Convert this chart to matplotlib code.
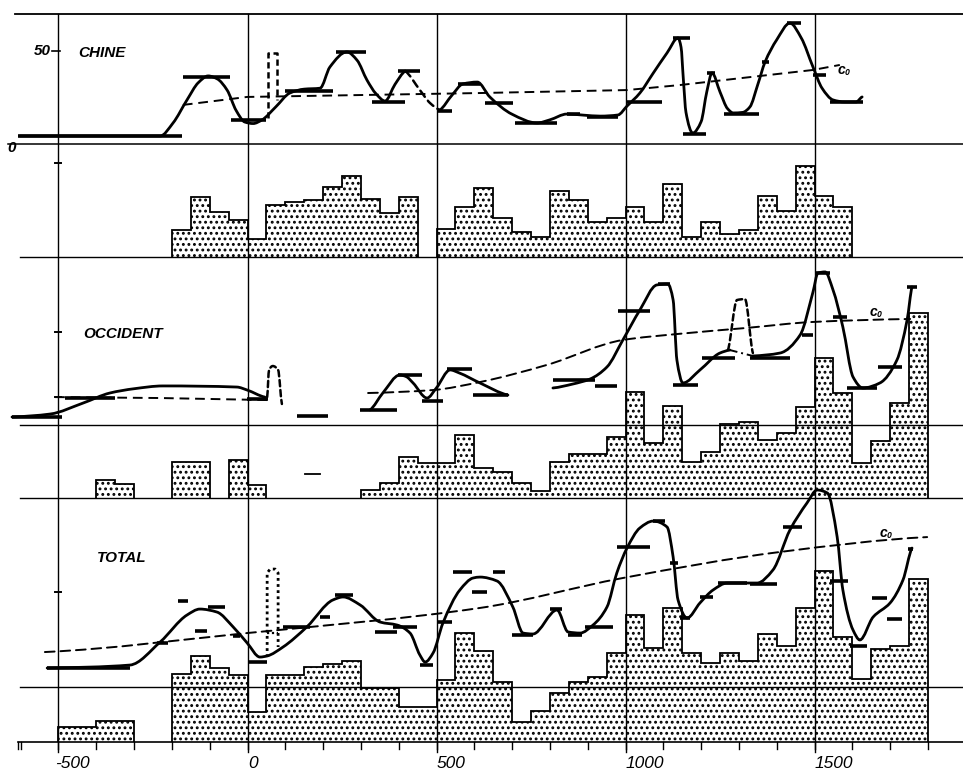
import matplotlib
matplotlib.use('Agg')
import matplotlib.pyplot as plt
from matplotlib.path import Path
from matplotlib.patches import PathPatch
import numpy as np

plt.rcParams['font.family'] = ['Liberation Sans', 'DejaVu Sans']
plt.rcParams['hatch.linewidth'] = 1.3

# ---------------- DATA (years, values in the chart's unit; 50 = "50" mark) ----------------
# CHINE
chine_curve_a = [(-602, 4.3), (-231, 4.3), (-197, 11.3), (-160, 23.7), (-130, 33), (-104, 36.6), (-80, 35),
                 (-54, 29), (-30, 18), (-7, 11.8), (15, 11), (38, 12.9), (75, 20), (112, 27.4), (150, 29.5),
                 (192, 30), (218, 41.4), (263, 49.5), (290, 45), (316, 34.4), (340, 27), (364, 23.1),
                 (390, 32), (417, 39.2)]
chine_curve_b = [(417, 39.2), (456, 29), (483, 22), (509, 18.3)]
chine_curve_c = [(509, 18.3), (540, 26), (570, 32.3), (608, 33.3), (641, 25.3), (700, 16), (766, 11.3),
                 (800, 13), (845, 16.1), (890, 15.5), (933, 15), (980, 15.6), (1004, 20.4), (1038, 27.4),
                 (1073, 38), (1110, 49), (1139, 57), (1147, 52), (1153, 35), (1160, 17), (1178, 5.9),
                 (1200, 12), (1215, 28), (1229, 38.2), (1250, 28), (1270, 19), (1285, 16.7), (1310, 17),
                 (1329, 19.9), (1350, 32), (1369, 44), (1400, 56), (1435, 65), (1465, 57), (1496, 41.4),
                 (1520, 30), (1549, 23.7), (1580, 22.6), (1610, 22.6), (1626, 25.3)]
chine_spike = [(54, 14), (54, 48.9), (78, 48.9), (78, 23.7)]
chine_trend = [(-171, 21), (-1, 25.3), (615, 27.4), (1004, 29), (1144, 31.7), (1496, 39.8), (1567, 42.5)]
chine_levels = [(-607, -173, 4.3), (-171, -46, 36), (-44, 49, 12.9), (99, 226, 28.5), (234, 313, 49.5),
                (329, 417, 22.6), (398, 456, 39.2), (501, 541, 17.7), (557, 615, 32.3), (628, 702, 22),
                (708, 819, 11.3), (845, 880, 16.1), (898, 980, 14.5), (1004, 1097, 22.6), (1126, 1171, 57),
                (1152, 1213, 5.4), (1216, 1237, 38.2), (1261, 1353, 16.1), (1361, 1380, 44),
                (1427, 1464, 65), (1496, 1530, 37), (1541, 1628, 22.6)]
chine_hist_start = -200
chine_hist = [14.5, 32.3, 24.2, 19.9, 9.7, 28, 29.6, 30.6, 37.6, 43.5, 31.2, 23.7, 32.3, np.nan,
              15, 26.9, 37.1, 21, 13.4, 10.8, 35.5, 30.6, 18.8, 21, 26.9, 18.8, 39.2, 10.8,
              18.8, 12.4, 14.5, 32.8, 24.7, 48.9, 32.8, 26.9]

# OCCIDENT
occ_curve_1 = [(-623, 4.3), (-522, 5.9), (-435, 11.8), (-364, 17.2), (-300, 19.5), (-224, 21),
               (-28, 20.4), (-1, 18.8), (46, 15)]
occ_curve_2 = [(324, 8.1), (358, 17.2), (403, 26.9), (420, 26), (438, 22.6), (475, 14.5), (500, 20),
               (536, 29.6), (560, 28), (615, 22.6), (689, 16.1)]
occ_curve_3 = [(808, 19.9), (860, 22), (906, 24.7), (951, 31.2), (993, 45.7), (1038, 61.8), (1083, 75.3),
               (1112, 75.8), (1126, 67.2), (1136, 34.9), (1152, 22.6), (1197, 29.6), (1250, 38.7),
               (1276, 40.3)]
occ_curve_4 = [(1337, 37.1), (1409, 38.7), (1462, 48.4), (1496, 71.5), (1509, 81.7), (1528, 82.3),
               (1549, 72.6), (1575, 52.7), (1602, 25.8), (1628, 19.9), (1673, 22.6), (1718, 34.9),
               (1745, 56.5), (1758, 74.2)]
occ_dashdot = [(1276, 40.3), (1337, 37.1)]
occ_spike_1 = [(52, 15), (57, 29.6), (67, 31.7), (81, 29.6), (91, 11.3)]
occ_spike_2 = [(1271, 40.3), (1295, 67.2), (1316, 67.7), (1337, 38.7)]
occ_trend_1 = [(-509, 15), (-231, 14.5), (54, 13.4)]
occ_trend_2 = [(319, 17.2), (491, 18.8), (615, 23.1), (792, 32.3), (993, 45.7), (1136, 48.9),
               (1321, 52.2), (1496, 55.4), (1753, 57)]
occ_levels = [(-623, -491, 4.3), (-483, -351, 14.5), (-1, 54, 14), (131, 213, 4.8), (298, 396, 8.1),
              (398, 462, 26.9), (462, 517, 12.9), (528, 594, 30.1), (597, 689, 16.1), (808, 919, 24.2),
              (919, 977, 21), (980, 1065, 61.3), (1086, 1118, 75.8), (1126, 1192, 21.5),
              (1202, 1290, 36), (1329, 1435, 36), (1467, 1496, 48.4), (1501, 1541, 81.7),
              (1549, 1586, 58), (1586, 1665, 19.9), (1668, 1731, 31.2), (1745, 1772, 74.2)]
occ_hist_start = -400
occ_hist = [9.7, 7.5, np.nan, np.nan, 19.4, 19.4, np.nan, 20.4, 7, np.nan, np.nan, np.nan, np.nan,
            np.nan, 4.3, 8.1, 22, 18.8, 18.8, 33.9, 16.1, 14, 8.1, 3.8, 19.4, 23.7, 23.7, 32.8, 57,
            29.6, 49.5, 19.4, 24.7, 39.8, 40.9, 31.2, 35, 48.9, 75.3, 56.5, 18.8, 30.6, 51, 99.5]
occ_hist_marks = [(152, 192, 12.9)]

# TOTAL
total_curve = [(-530, 10.2), (-311, 11.8), (-231, 24.2), (-160, 38.7), (-126, 41.9), (-81, 40.3),
               (-38, 32.3), (-1, 23.7), (33, 16.1), (52, 16.7), (94, 21.5), (157, 32.3), (226, 46.8),
               (253, 48.4), (298, 44.1), (351, 34.9), (396, 33.3), (430, 29), (456, 17.2), (470, 13.4),
               (491, 18.3), (517, 34.4), (562, 52.2), (597, 58.6), (615, 59.1), (660, 57), (702, 43),
               (729, 29), (755, 28.5), (819, 41.4), (848, 29.6), (880, 29), (914, 33.3), (951, 43),
               (977, 61.3), (1004, 74.7), (1038, 85.5), (1073, 89.2), (1110, 86), (1126, 69.9),
               (1139, 46.8), (1163, 37.1), (1197, 45.2), (1232, 52.2), (1269, 55.9), (1348, 55.9),
               (1390, 62.9), (1435, 84.4), (1480, 98.9), (1507, 105.9), (1534, 104.3), (1560, 80.6),
               (1575, 52.2), (1602, 30.6), (1620, 25.3), (1655, 37.6), (1700, 45.2), (1734, 57.5),
               (1758, 74.7)]
total_spike = [(52, 16.1), (52, 61.3), (60, 63.4), (73, 63.4), (81, 61.3), (81, 21.5)]
total_spike_bar = [(52, 29), (81, 29)]
total_trend = [(-536, 18.8), (-1, 29), (615, 42.5), (993, 58.6), (1409, 72.6), (1798, 80.6)]
total_levels = [(-530, -311, 10.2), (-239, -210, 23.7), (-184, -157, 46.2), (-104, -60, 43),
                (-139, -107, 30.1), (-38, -20, 27.4), (1, 52, 13.4), (94, 165, 32.3), (192, 218, 37.6),
                (231, 279, 49.5), (337, 396, 29.6), (385, 448, 32.3), (456, 491, 11.8),
                (501, 541, 34.9), (544, 594, 61.8), (594, 634, 51.1), (650, 681, 61.8), (700, 755, 28),
                (800, 831, 41.9), (848, 884, 28), (893, 967, 32.3), (977, 1065, 75.3),
                (1073, 1104, 89.2), (1118, 1139, 66.7), (1144, 1171, 37.1), (1197, 1232, 48.4),
                (1245, 1321, 55.9), (1329, 1401, 55.4), (1417, 1467, 86), (1541, 1589, 57),
                (1595, 1639, 22), (1652, 1692, 47.8), (1692, 1731, 36.6), (1747, 1761, 74.2)]
total_hist_start = -500
total_hist = [8.1, 8.1, 11.3, 11.3, np.nan, np.nan, 36.6, 46.2, 39.8, 36, 16.1, 36, 36, 40.3, 41.9,
              43.5, 29, 29, 18.8, 18.8, 33.3, 58.6, 48.9, 32.3, 10.8, 16.7, 26.3, 32.3, 34.9, 47.8,
              68.3, 50.5, 72, 47.8, 42.5, 47.8, 43.5, 58, 51.6, 72, 91.9, 56.5, 33.9, 50, 51.6, 87.6]

panel_names = ['CHINE', 'OCCIDENT', 'TOTAL']
x_tick_labels = ['-500', '0', '500', '1000', '1500']
x_tick_years = [-500, 0, 500, 1000, 1500]
y_tick_label = '50'

# ---------------- LAYOUT ----------------
W, H = 963, 773
S = 1.86            # px per value unit
PXY = 0.378         # px per year
X0 = 247.5          # px position of year 0
BIN = 50

CH_BASE, CH_HBASE = 629, 516
OC_BASE, OC_HBASE = 348, 275
TO_BASE, TO_HBASE = 86, 31
TOP = 759

fig = plt.figure(figsize=(W / 100, H / 100), dpi=100)
ax = fig.add_axes([0, 0, 1, 1])
ax.set_xlim(-X0 / PXY, (W - X0) / PXY)
ax.set_ylim(0, H)
ax.axis('off')

def yr(px):
    return (px - X0) / PXY

K = 'black'

# frame lines
for y, x_from, lw in [(TOP, 15, 1.3), (CH_BASE, 8, 1.1), (CH_HBASE, 20, 1.0), (OC_BASE, 20, 1.0),
                      (OC_HBASE, 20, 1.0), (TO_BASE, 20, 1.0), (TO_HBASE, 18, 1.2)]:
    ax.plot([yr(x_from), yr(W)], [y, y], color=K, lw=lw, zorder=2)
for xv in x_tick_years:
    ax.plot([xv, xv], [TO_HBASE - 10, TOP], color=K, lw=1.0, zorder=2)
for t in range(-600, 1900, 100):
    ax.plot([t, t], [TO_HBASE, TO_HBASE - 7], color=K, lw=1.0, zorder=2)
ax.plot([yr(18), yr(18)], [TO_HBASE, TO_HBASE - 7], color=K, lw=1.0)
for xv, lab in zip(x_tick_years, x_tick_labels):
    off = -8 if lab.startswith('-') else 1
    ax.text(xv + off, 9, lab, fontsize=12.5, style='italic', ha='left', va='center', color=K)

# left scale marks
ax.plot([yr(52), yr(60)], [CH_BASE + 50 * S] * 2, color=K, lw=1.2)
ax.text(yr(51), CH_BASE + 50 * S, y_tick_label, fontsize=11, style='italic', weight='bold',
        ha='right', va='center')
ax.text(yr(7), CH_BASE - 4, '0', fontsize=11, style='italic', weight='bold', ha='left', va='center')
for ypx in [163, 332, 397, 592]:
    ax.plot([yr(55), yr(61)], [H - ypx] * 2, color=K, lw=1.4)

# panel titles
for name, (xpx, ypx) in zip(panel_names, [(78, 53), (83, 334), (97, 558)]):
    ax.text(yr(xpx), H - ypx, name, fontsize=11, style='italic', weight='bold', ha='left', va='center')


def pchip_slopes(x, y):
    h = np.diff(x)
    d = np.diff(y) / h
    n = len(x)
    m = np.zeros(n)
    for k in range(1, n - 1):
        if d[k - 1] * d[k] > 0:
            w1 = 2 * h[k] + h[k - 1]
            w2 = h[k] + 2 * h[k - 1]
            m[k] = (w1 + w2) / (w1 / d[k - 1] + w2 / d[k])
    m[0] = d[0] * 0.5
    m[-1] = d[-1] * 0.5
    return m


def smooth_path(xs, ys):
    """Draw a curve through the read points with cubic Bezier segments (shape-preserving)."""
    x = np.asarray(xs, float)
    y = np.asarray(ys, float)
    m = pchip_slopes(x, y)
    verts = [(x[0], y[0])]
    codes = [Path.MOVETO]
    for i in range(len(x) - 1):
        dx = x[i + 1] - x[i]
        verts += [(x[i] + dx / 3, y[i] + m[i] * dx / 3),
                  (x[i + 1] - dx / 3, y[i + 1] - m[i + 1] * dx / 3),
                  (x[i + 1], y[i + 1])]
        codes += [Path.CURVE4] * 3
    return Path(np.array(verts), codes)


def line(pts, base, smooth=True, lw=2.0, linestyle='-'):
    xs = [p[0] for p in pts]
    ys = [base + p[1] * S for p in pts]
    if smooth:
        patch = PathPatch(smooth_path(xs, ys), facecolor='none', edgecolor=K, lw=lw,
                          linestyle=linestyle, joinstyle='round', capstyle='round', zorder=4)
        ax.add_patch(patch)
    else:
        ax.plot(xs, ys, color=K, lw=lw, linestyle=linestyle, solid_joinstyle='round',
                solid_capstyle='round', zorder=4)


def levels(lst, base):
    for x1, x2, v in lst:
        ax.plot([x1, x2], [base + v * S] * 2, color=K, lw=2.6, solid_capstyle='butt', zorder=5)


def hist(start, vals, base):
    vals = np.asarray(vals, float)
    n = len(vals)
    i = 0
    while i < n:
        if np.isnan(vals[i]):
            i += 1
            continue
        j = i
        while j < n and not np.isnan(vals[j]):
            j += 1
        seg = vals[i:j]
        edges = start + BIN * np.arange(i, j + 1)
        ax.bar(edges[:-1], seg * S, width=BIN, bottom=base, align='edge', fill=False,
               hatch='...', edgecolor=K, linewidth=0, zorder=1)
        ax.stairs(base + seg * S, edges, baseline=base, color=K, lw=1.3, zorder=3)
        i = j

DASH = (0, (5, 3))
SHORTDASH = (0, (2.5, 1.5))

# CHINE
hist(chine_hist_start, chine_hist, CH_HBASE)
line(chine_curve_a, CH_BASE)
line(chine_curve_b, CH_BASE, lw=1.8, linestyle=(0, (3, 2)))
line(chine_curve_c, CH_BASE)
line(chine_spike, CH_BASE, smooth=False, lw=1.8, linestyle=SHORTDASH)
line(chine_trend, CH_BASE, smooth=False, lw=1.4, linestyle=DASH)
levels(chine_levels, CH_BASE)
ax.text(1562, CH_BASE + 40 * S, 'c₀', fontsize=10, style='italic', weight='bold', ha='left', va='center')

# OCCIDENT
hist(occ_hist_start, occ_hist, OC_HBASE)
for x1, x2, v in occ_hist_marks:
    ax.plot([x1, x2], [OC_HBASE + v * S] * 2, color=K, lw=1.3)
for c in (occ_curve_1, occ_curve_2, occ_curve_3, occ_curve_4):
    line(c, OC_BASE)
line(occ_dashdot, OC_BASE, smooth=False, lw=1.4, linestyle=(0, (4, 2, 1, 2)))
line(occ_spike_1, OC_BASE, lw=1.8, linestyle=SHORTDASH)
line(occ_spike_2, OC_BASE, lw=1.8, linestyle=SHORTDASH)
line(occ_trend_1, OC_BASE, smooth=False, lw=1.4, linestyle=DASH)
line(occ_trend_2, OC_BASE, lw=1.4, linestyle=DASH)
levels(occ_levels, OC_BASE)
ax.text(1647, OC_BASE + 61 * S, 'c₀', fontsize=10, style='italic', weight='bold', ha='left', va='center')

# TOTAL
hist(total_hist_start, total_hist, TO_HBASE)
line(total_curve, TO_BASE)
line(total_spike, TO_BASE, smooth=False, lw=2.0, linestyle=(0, (1, 1.2)))
line(total_spike_bar, TO_BASE, smooth=False, lw=1.6, linestyle=(0, (1, 1.2)))
line(total_trend, TO_BASE, lw=1.4, linestyle=DASH)
levels(total_levels, TO_BASE)
ax.text(1673, TO_BASE + 83 * S, 'c₀', fontsize=10, style='italic', weight='bold', ha='left', va='center')

fig.savefig('out.png', dpi=100, facecolor='white')
